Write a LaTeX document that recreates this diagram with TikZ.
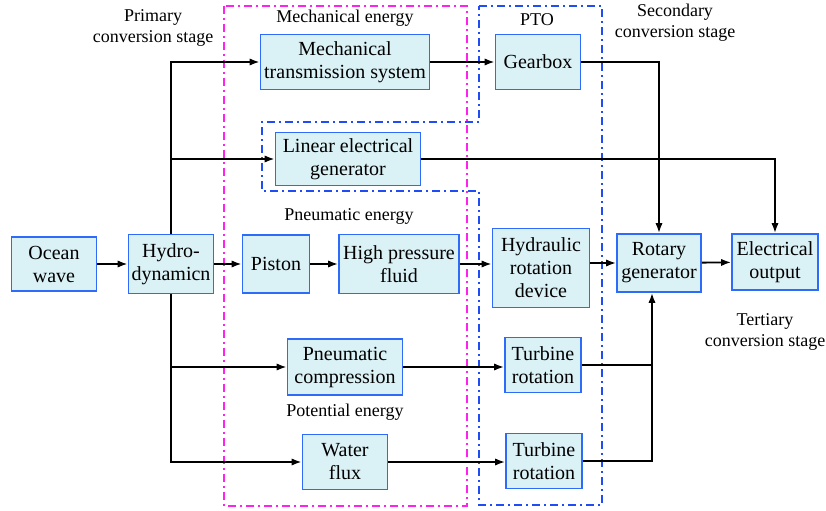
\documentclass[tikz,border=0pt]{standalone}
\usepackage{fontspec}
\setmainfont{Liberation Serif}
\usetikzlibrary{arrows.meta}
\definecolor{WaveFill}{HTML}{DAF1F6}
\definecolor{WaveBlue}{HTML}{2E6BFA}
\definecolor{PtoBlue}{HTML}{1F4CF5}
\definecolor{EnergyPink}{HTML}{FF22EE}

\begin{document}
\begin{tikzpicture}[
  x=0.5pt,y=-0.5pt,
  box/.style={draw=WaveBlue,line width=0.8pt,fill=WaveFill,
    align=center,inner sep=1pt,font=\fontsize{10}{11.5}\selectfont},
  tag/.style={align=center,font=\fontsize{9}{10.5}\selectfont},
  arr/.style={-{Latex[length=5pt,width=3.6pt]},line width=0.9pt},
  link/.style={line width=0.9pt},
  dashdot/.style={line width=0.8pt,
    dash pattern=on 4pt off 2pt on 1pt off 2pt}
]
\useasboundingbox (0,0) rectangle (826,510);

% energy and PTO regions
\draw[dashdot,draw=EnergyPink] (224,6) rectangle (467,506);
\draw[dashdot,draw=PtoBlue] (479,6) -- (602,6) -- (602,505) -- (479,505)
  -- (479,191) -- (262,191) -- (262,122) -- (479,122) -- cycle;

% main chain
\node[box,minimum width=42.5pt,minimum height=27pt] (ocean) at (54,264) {Ocean\\wave};
\node[box,minimum width=42.5pt,minimum height=29.5pt] (hydro) at (171,264) {Hydro-\\dynamicn};
\node[box,minimum width=33.5pt,minimum height=29pt] (piston) at (276,264) {Piston};
\node[box,minimum width=60pt,minimum height=29.5pt] (fluid) at (399,264) {High pressure\\fluid};
\node[box,minimum width=48.5pt,minimum height=39.5pt] (hydraulic) at (541,268) {Hydraulic\\rotation\\device};
\node[box,minimum width=42pt,minimum height=29pt] (rotary) at (659,263) {Rotary\\generator};
\node[box,minimum width=43pt,minimum height=28pt] (elec) at (775,262) {Electrical\\output};

% upper branches
\node[box,minimum width=84.5pt,minimum height=27.5pt] (mech) at (345,62) {Mechanical\\transmission system};
\node[box,minimum width=42.5pt,minimum height=27.5pt] (gear) at (538,62) {Gearbox};
\node[box,minimum width=72.5pt,minimum height=26.5pt] (linear) at (348,159) {Linear electrical\\generator};

% lower branches
\node[box,minimum width=57.5pt,minimum height=28pt] (pneu) at (345,367) {Pneumatic\\compression};
\node[box,minimum width=38pt,minimum height=27.5pt] (turbA) at (543,365) {Turbine\\rotation};
\node[box,minimum width=42.5pt,minimum height=27.5pt] (water) at (345,462) {Water\\flux};
\node[box,minimum width=38pt,minimum height=27.5pt] (turbB) at (544,461) {Turbine\\rotation};

% labels
\node[tag] (primary) at (153,28) {Primary\\conversion stage};
\node[tag] (mechlbl) at (345,18) {Mechanical energy};
\node[tag] (ptolbl) at (537,20) {PTO};
\node[tag] (secondary) at (675,23) {Secondary\\conversion stage};
\node[tag] (pneulbl) at (349,216) {Pneumatic energy};
\node[tag] (potlbl) at (345,412) {Potential energy};
\node[tag] (tertiary) at (765,332) {Tertiary\\conversion stage};

% connectors
\draw[arr] (ocean) -- (hydro);
\draw[arr] (hydro) -- (piston);
\draw[arr] (piston) -- (fluid);
\draw[arr] (fluid.east) -- (fluid.east -| hydraulic.west);
\draw[arr] (hydraulic.east |- rotary.west) -- (rotary.west);
\draw[arr] (rotary) -- (elec);
\draw[arr] (hydro.north) |- (mech.west);
\draw[arr] (hydro.north) |- (linear.west);
\draw[arr] (hydro.south) |- (pneu.west);
\draw[arr] (hydro.south) |- (water.west);
\draw[arr] (mech.east) -- (mech.east -| gear.west);
\draw[arr] (gear.east) -| (rotary.north);
\draw[arr] (linear.east) -| (elec.north);
\draw[arr] (pneu.east) -- (pneu.east -| turbA.west);
\draw[arr] (water.east) -- (water.east -| turbB.west);
\coordinate (join) at (652,365);
\draw[arr] (turbA.east) -- (join) -- (join |- rotary.south);
\draw[link,line width=0.6pt] (turbB.east) -| (join);
\end{tikzpicture}
\end{document}
